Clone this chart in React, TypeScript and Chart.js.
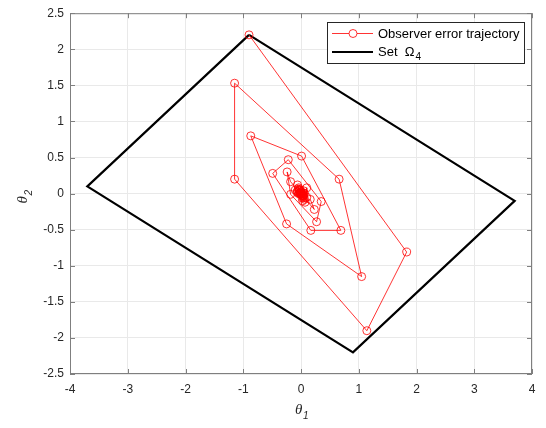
import React, { useEffect, useRef } from "react";
import { Chart, registerables } from "chart.js";

Chart.register(...registerables);

// Observer error trajectory (theta1, theta2)
const trajX = [-0.90, 1.83, 1.14, -1.15, -1.15, 0.66, 1.05, -0.25, -0.87, 0.01, 0.69, 0.17, -0.49, -0.22, 0.35, 0.27, -0.18, -0.24, -0.18, 0.23, 0.16, 0.07, -0.10, -0.06, 0.10, 0.10, 0.03, -0.07, -0.04, 0.06, 0.05, -0.03, -0.02, 0.03, 0.02, -0.01, 0.00, 0.01, 0.00, -0.01, 0.01, 0.00, -0.05, 0.04, 0.06, -0.03, -0.06, 0.02, 0.05, -0.02, -0.04, 0.03, 0.00, -0.02, 0.02, 0.01, -0.01, 0.00];
const trajY = [2.20, -0.81, -1.90, 0.20, 1.53, 0.20, -1.15, -0.42, 0.80, 0.52, -0.51, -0.51, 0.28, 0.47, -0.11, -0.39, -0.01, 0.30, 0.165, -0.22, -0.08, -0.12, 0.05, 0.12, 0.08, -0.05, -0.10, 0.02, 0.08, 0.00, -0.06, 0.00, 0.05, 0.01, -0.03, 0.00, 0.02, 0.00, -0.01, 0.01, -0.01, 0.00, 0.06, -0.03, -0.08, 0.04, 0.03, -0.06, 0.01, 0.05, 0.00, -0.04, 0.03, 0.01, -0.02, 0.01, 0.00, 0.00];

// Set Omega_4 polygon (closed)
const setX = [-0.90, -3.70, 0.90, 3.70, -0.90];
const setY = [2.20, 0.10, -2.20, -0.10, 2.20];

const xTicks = [-4, -3, -2, -1, 0, 1, 2, 3, 4];
const yTicks = [-2.5, -2, -1.5, -1, -0.5, 0, 0.5, 1, 1.5, 2, 2.5];

const legendLabels = ["Observer error trajectory", "Set  \u03A9"];

const BOX = "#7f7f7f";
const TXT = "#262626";

const overlay = {
  id: "overlay",
  afterDraw(chart: any) {
    const { ctx, chartArea: a, scales } = chart;
    ctx.save();
    // box
    ctx.strokeStyle = BOX;
    ctx.lineWidth = 1;
    ctx.strokeRect(a.left + 0.5, a.top + 0.5, a.right - a.left - 1, a.bottom - a.top - 1);
    // inner ticks
    const tl = 5;
    ctx.beginPath();
    xTicks.forEach((v) => {
      const px = Math.round(scales.x.getPixelForValue(v)) + 0.5;
      ctx.moveTo(px, a.bottom);
      ctx.lineTo(px, a.bottom - tl);
      ctx.moveTo(px, a.top);
      ctx.lineTo(px, a.top + tl);
    });
    yTicks.forEach((v) => {
      const py = Math.round(scales.y.getPixelForValue(v)) + 0.5;
      ctx.moveTo(a.left, py);
      ctx.lineTo(a.left + tl, py);
      ctx.moveTo(a.right, py);
      ctx.lineTo(a.right - tl, py);
    });
    ctx.stroke();

    // axis titles
    ctx.fillStyle = TXT;
    ctx.textBaseline = "alphabetic";
    const cx = (a.left + a.right) / 2;
    ctx.font = "italic 15px 'Liberation Serif'";
    ctx.textAlign = "left";
    ctx.fillText("\u03B8", cx - 6, 414);
    ctx.font = "italic 10px 'Liberation Sans'";
    ctx.fillText("1", cx + 2, 419);

    ctx.save();
    ctx.translate(27, (a.top + a.bottom) / 2 + 4);
    ctx.rotate(-Math.PI / 2);
    ctx.font = "italic 15px 'Liberation Serif'";
    ctx.fillText("\u03B8", -6, 0);
    ctx.font = "italic 10px 'Liberation Sans'";
    ctx.fillText("2", 2, 5);
    ctx.restore();

    // legend
    const lx = 327, ly = 22, lw = 197, lh = 41;
    ctx.fillStyle = "#ffffff";
    ctx.fillRect(lx, ly, lw, lh);
    ctx.strokeStyle = "#262626";
    ctx.lineWidth = 1;
    ctx.strokeRect(lx + 0.5, ly + 0.5, lw, lh);
    // entry 1
    const y1 = 33, y2 = 52;
    ctx.strokeStyle = "#ff0000";
    ctx.lineWidth = 0.8;
    ctx.beginPath();
    ctx.moveTo(332, y1 + 0.5);
    ctx.lineTo(373, y1 + 0.5);
    ctx.stroke();
    ctx.beginPath();
    ctx.arc(353, y1 + 0.5, 4, 0, Math.PI * 2);
    ctx.fillStyle = "#ffffff";
    ctx.fill();
    ctx.stroke();
    // entry 2
    ctx.strokeStyle = "#000000";
    ctx.lineWidth = 2;
    ctx.beginPath();
    ctx.moveTo(332, y2);
    ctx.lineTo(373, y2);
    ctx.stroke();
    ctx.fillStyle = "#000000";
    ctx.font = "13px 'Liberation Sans'";
    ctx.textBaseline = "middle";
    ctx.textAlign = "left";
    ctx.fillText(legendLabels[0], 378, y1 + 1);
    ctx.fillText(legendLabels[1], 378, y2);
    const w = ctx.measureText(legendLabels[1]).width;
    ctx.font = "10px 'Liberation Sans'";
    ctx.fillText("4", 378 + w + 1, y2 + 5);
    ctx.restore();
  },
};

const fmt = (v: any) => String(Number(v));

export default function App() {
  const ref = useRef<HTMLCanvasElement>(null);
  useEffect(() => {
    document.body.style.margin = "0";
    const chart = new Chart(ref.current!, {
      type: "scatter",
      data: {
        datasets: [
          {
            label: "Observer error trajectory",
            data: trajX.map((x, i) => ({ x, y: trajY[i] })),
            showLine: true,
            borderColor: "#ff0000",
            borderWidth: 0.8,
            pointRadius: 4,
            pointBorderWidth: 0.8,
            pointBorderColor: "#ff0000",
            pointBackgroundColor: "rgba(0,0,0,0)",
            pointStyle: "circle",
            order: 1,
          },
          {
            label: "Set \u03A94",
            data: setX.map((x, i) => ({ x, y: setY[i] })),
            showLine: true,
            borderColor: "#000000",
            borderWidth: 2.2,
            pointRadius: 0,
            order: 2,
          },
        ],
      },
      options: {
        animation: false,
        responsive: false,
        layout: { padding: { left: 0, right: 14, top: 11, bottom: 0 } },
        plugins: { legend: { display: false }, tooltip: { enabled: false } },
        scales: {
          x: {
            type: "linear",
            min: -4,
            max: 4,
            afterBuildTicks: (s: any) => {
              s.ticks = xTicks.map((v) => ({ value: v }));
            },
            afterFit: (s: any) => {
              s.height = 54;
            },
            grid: { color: "#e9e9e9", drawTicks: false },
            border: { display: false },
            ticks: { color: TXT, font: { family: "Liberation Sans", size: 12 }, padding: 8, callback: fmt },
          },
          y: {
            type: "linear",
            min: -2.5,
            max: 2.5,
            afterBuildTicks: (s: any) => {
              s.ticks = yTicks.map((v) => ({ value: v }));
            },
            afterFit: (s: any) => {
              s.width = 70;
            },
            grid: { color: "#e9e9e9", drawTicks: false },
            border: { display: false },
            ticks: { color: TXT, font: { family: "Liberation Sans", size: 12 }, padding: 6, callback: fmt },
          },
        },
      },
      plugins: [overlay],
    });
    return () => chart.destroy();
  }, []);
  return <canvas ref={ref} width={546} height={428} style={{ display: "block" }} />;
}
